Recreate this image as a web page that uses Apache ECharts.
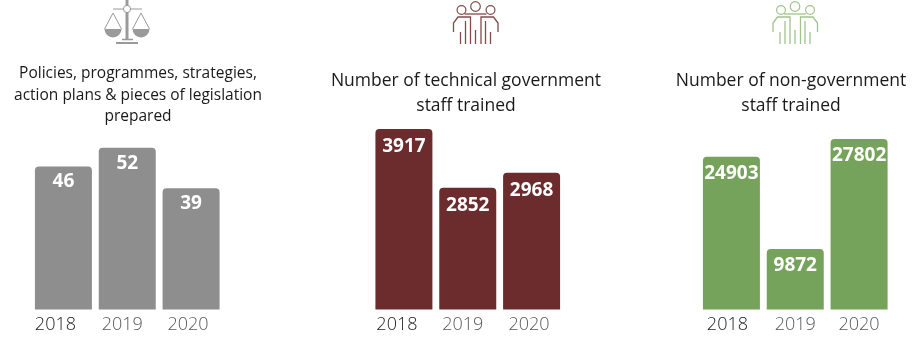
<!DOCTYPE html>
<html>
<head>
<meta charset="utf-8">
<style>
html, body { margin: 0; padding: 0; background: #fff; }
#main { width: 920px; height: 351px; }
</style>
<script src="https://cdn.jsdelivr.net/npm/echarts@6/dist/echarts.min.js"></script>
</head>
<body>
<div id="main"></div>
<script>
const years = ['2018', '2019', '2020'];

const policyTitle = 'Policies, programmes, strategies,\naction plans & pieces of legislation\nprepared';
const policyValues = [46, 52, 39];
const policyLabels = ['46', '52', '39'];

const technicalTitle = 'Number of technical government\nstaff trained';
// the 2019 bar is drawn shorter in the picture than its printed 2852, so height and label are kept apart
const technicalValues = [3917, 2640, 2968];
const technicalLabels = ['3917', '2852', '2968'];

const nonGovTitle = 'Number of non-government\nstaff trained';
const nonGovValues = [24903, 9872, 27802];
const nonGovLabels = ['24903', '9872', '27802'];

const panels = [
    { values: policyValues, labels: policyLabels, title: policyTitle, color: '#8e8e8e', left: 31.5, max: 67.4, titleX: 138, titleY: 63, titleSize: 15.5, titleLine: 21.5, gap: 6, yearPad: [16, 10, 6] },
    { values: technicalValues, labels: technicalLabels, title: technicalTitle, color: '#6c2c2d', left: 372, max: 4545, titleX: 466, titleY: 69, titleSize: 17.5, titleLine: 25, gap: 8, yearPad: [14, 10, 5] },
    { values: nonGovValues, labels: nonGovLabels, title: nonGovTitle, color: '#76a35b', left: 699.5, max: 34143, titleX: 791, titleY: 69, titleSize: 17.5, titleLine: 25, gap: 7.5, yearPad: [8, 0, 0] }
];

const fontName = '"Open Sans", sans-serif';

//The small pictures above the titles
function line(points, color, width) {
    return {
        type: 'polyline',
        silent: true,
        shape: { points: points },
        style: { stroke: color, lineWidth: width, fill: null }
    };
}
function ring(x, y, r, color, width) {
    return {
        type: 'circle',
        silent: true,
        shape: { cx: x, cy: y, r: r },
        style: { stroke: color, lineWidth: width, fill: '#fff' }
    };
}
function scalesIcon(cx, color) {
    let items = [];
    items.push(line([[cx, 0], [cx, 40]], color, 3));
    items.push(line([[cx - 14, 9], [cx + 15, 9]], color, 1));
    items.push(ring(cx, 9, 3.6, color, 1));
    items.push(line([[cx - 5, 39.5], [cx + 6, 39.5]], color, 1.5));
    items.push(line([[cx - 11, 43], [cx + 11, 43]], color, 2));
    [-14, 14].forEach(function (dx) {
        let px = cx + dx;
        items.push(line([[px - 8.5, 29], [px, 13], [px + 8.5, 29]], color, 1));
        items.push({
            type: 'sector',
            silent: true,
            shape: { cx: px, cy: 29, r0: 0, r: 8.5, startAngle: 0, endAngle: Math.PI },
            style: { fill: color }
        });
    });
    return items;
}
function peopleIcon(cx, color) {
    let items = [];
    items.push(line([[cx - 22, 32], [cx - 22, 23], [cx - 17.5, 17], [cx - 5, 17], [cx - 5, 44]], color, 1.3));
    items.push(line([[cx + 22.5, 32], [cx + 22.5, 23], [cx + 18, 17], [cx + 5.5, 17], [cx + 5.5, 44]], color, 1.3));
    items.push(line([[cx - 11, 14], [cx + 11, 14]], color, 1.3));
    [[-15, 32], [-10, 21], [0, 30], [10, 21], [15, 32]].forEach(function (bar) {
        items.push(line([[cx + bar[0], bar[1]], [cx + bar[0], 44]], color, 1.3));
    });
    items.push(ring(cx - 14, 10, 4.4, color, 1.2));
    items.push(ring(cx + 15, 10, 4.4, color, 1.2));
    items.push(ring(cx, 6.5, 4.8, color, 1.2));
    return items;
}

let grid = [];
let xAxis = [];
let yAxis = [];
let series = [];
let graphic = [];

panels.forEach(function (p, i) {
    grid.push({ left: p.left, top: 100, width: 191.5, height: 209.5 });
    xAxis.push({
        type: 'category',
        gridIndex: i,
        data: years,
        axisLine: { show: false },
        axisTick: { show: false },
        axisLabel: {
            margin: 6,
            interval: 0,
            formatter: function (value, index) {
                return '{y' + index + '|' + value + '}';
            },
            rich: {
                y0: { fontFamily: fontName, fontWeight: 300, fontSize: 18, color: '#222222', padding: [0, p.yearPad[0], 0, 0] },
                y1: { fontFamily: fontName, fontWeight: 300, fontSize: 18, color: '#595959', padding: [0, p.yearPad[1], 0, 0] },
                y2: { fontFamily: fontName, fontWeight: 300, fontSize: 18, color: '#595959', padding: [0, p.yearPad[2], 0, 0] }
            }
        }
    });
    yAxis.push({ type: 'value', gridIndex: i, min: 0, max: p.max, show: false });
    series.push({
        type: 'bar',
        xAxisIndex: i,
        yAxisIndex: i,
        data: p.values,
        barWidth: 57,
        silent: true,
        itemStyle: { color: p.color, borderRadius: [4, 4, 0, 0] },
        label: {
            show: true,
            position: 'insideTop',
            distance: p.gap,
            color: '#fff',
            fontFamily: fontName,
            fontWeight: 700,
            fontSize: 19,
            formatter: function (params) {
                return p.labels[params.dataIndex];
            }
        }
    });
    graphic.push({
        type: 'text',
        silent: true,
        x: p.titleX,
        y: p.titleY,
        style: {
            text: p.title,
            fill: '#1a1a1a',
            font: '400 ' + p.titleSize + 'px ' + fontName,
            lineHeight: p.titleLine,
            align: 'center',
            verticalAlign: 'top'
        }
    });
});

graphic = graphic.concat(scalesIcon(127, '#9a9a9a'), peopleIcon(475.5, '#84494a'), peopleIcon(795, '#a0c48c'));

let chart = echarts.init(document.getElementById('main'));
chart.setOption({
    animation: false,
    backgroundColor: '#fff',
    grid: grid,
    xAxis: xAxis,
    yAxis: yAxis,
    series: series,
    graphic: graphic
});
</script>
</body>
</html>
